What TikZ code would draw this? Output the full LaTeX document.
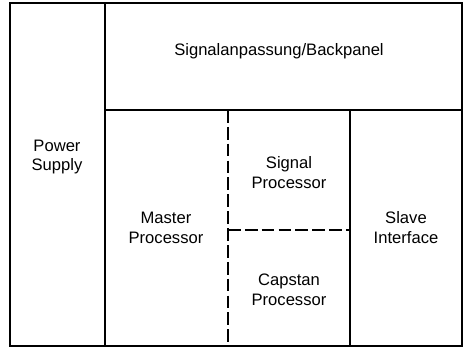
\documentclass[tikz,border=0pt]{standalone}
\usepackage{fontspec}
\setmainfont{Liberation Sans}
\usetikzlibrary{positioning}

\begin{document}
\begin{tikzpicture}[
    x=0.025cm, y=-0.025cm,
    every node/.style={font=\fontsize{11.8}{14.2}\selectfont},
    label/.style={align=center, inner sep=0pt},
    frame/.style={draw=black, line width=1.3pt},
    split/.style={draw=black, line width=1.3pt},
    dashsplit/.style={draw=black, line width=1.1pt, dash pattern=on 9pt off 3pt},
]
\useasboundingbox (0,0) rectangle (470,348);

% Corners of the rack
\coordinate (nw) at (10,3);
\coordinate (se) at (462,346);

% Column and row borders
\coordinate (psTop) at (105,3);
\coordinate (psBot) at (105,346);
\coordinate (bpLeft) at (105,110);
\coordinate (bpRight) at (462,110);
\coordinate (mTop) at (228,110);
\coordinate (mBot) at (228,346);
\coordinate (sTop) at (350,110);
\coordinate (sBot) at (350,346);
\coordinate (cLeft) at (228,230);
\coordinate (cRight) at (350,230);

% Boxes
\draw[frame] (nw) rectangle (se);
\draw[split] (psTop) -- (psBot);
\draw[split] (bpLeft) -- (bpRight);
\draw[split] (sTop) -- (sBot);
\draw[dashsplit] (mTop) -- (mBot);
\draw[dashsplit] (cLeft) -- (cRight);

% Labels
\node[label] (backpanel) at (279,51) {Signalanpassung/Backpanel};
\node[label] (power) at (57,157) {Power\\Supply};
\node[label] (master) at (166,228) {Master\\Processor};
\node[label] (signal) at (289,173) {Signal\\Processor};
\node[label] (capstan) at (289,290) {Capstan\\Processor};
\node[label] (slave) at (406,228) {Slave\\Interface};

\end{tikzpicture}
\end{document}
